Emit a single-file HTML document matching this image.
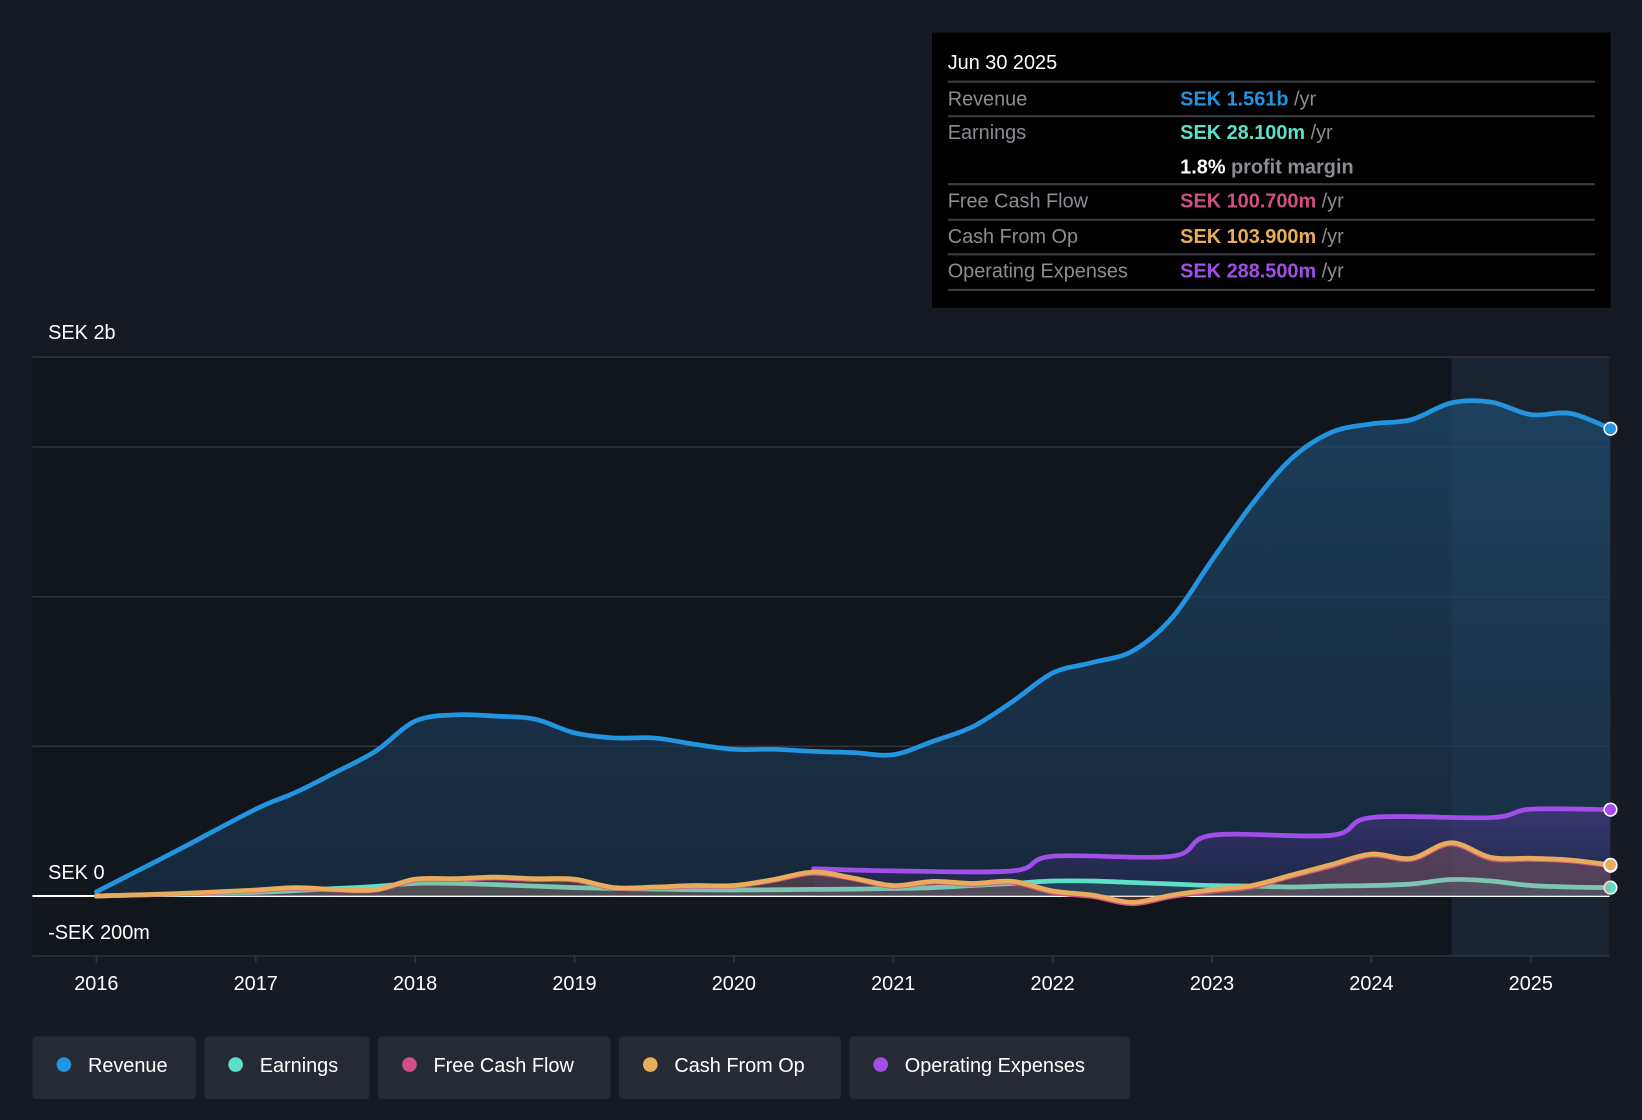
<!DOCTYPE html>
<html><head><meta charset="utf-8"><style>
html,body{margin:0;padding:0;background:#151a23;overflow:hidden}
svg{display:block}
text{font-family:"Liberation Sans",sans-serif}
</style></head><body>
<svg id="chart" width="1642" height="1120" viewBox="0 0 1568 1070" preserveAspectRatio="none" xmlns="http://www.w3.org/2000/svg">
<defs>
<linearGradient id="revGrad" x1="0" y1="0" x2="0" y2="1"><stop offset="0" stop-color="#1e4a6e" stop-opacity="0.75"/><stop offset="1" stop-color="#1a3550" stop-opacity="0.6"/></linearGradient>
<linearGradient id="opGrad" x1="0" y1="0" x2="0" y2="1"><stop offset="0" stop-color="#5a3aa0" stop-opacity="0.45"/><stop offset="1" stop-color="#3a2a70" stop-opacity="0.2"/></linearGradient>
</defs>
<rect x="0" y="0" width="1568" height="1070" fill="#151a23"/>
<rect x="31" y="341" width="1506" height="572" fill="#11151c"/>
<rect x="1386" y="341" width="151" height="572" fill="#1a2430"/>
<g id="grid"></g>
<g id="series"></g>
<g id="axes"></g>
<g>
<rect x="890" y="31" width="648" height="263" fill="#000"/>
<text x="905" y="66" fill="#fff" font-size="19">Jun 30 2025</text>
<line x1="905" y1="78" x2="1523" y2="78" stroke="#3a3d44" stroke-width="2"/>
<text x="905" y="101" fill="#8a8d93" font-size="19">Revenue</text>
<text x="1127" y="101" font-size="19" font-weight="bold" fill="#2394df">SEK 1.561b <tspan fill="#8a8d93" font-weight="normal">/yr</tspan></text>
<line x1="905" y1="111" x2="1523" y2="111" stroke="#3a3d44" stroke-width="2"/>
<text x="905" y="133" fill="#8a8d93" font-size="19">Earnings</text>
<text x="1127" y="133" font-size="19" font-weight="bold" fill="#5de0c8">SEK 28.100m <tspan fill="#8a8d93" font-weight="normal">/yr</tspan></text>
<text x="1127" y="166" font-size="19" font-weight="bold" fill="#fff">1.8% <tspan fill="#8a8d93">profit margin</tspan></text>
<line x1="905" y1="176" x2="1523" y2="176" stroke="#3a3d44" stroke-width="2"/>
<text x="905" y="198" fill="#8a8d93" font-size="19">Free Cash Flow</text>
<text x="1127" y="198" font-size="19" font-weight="bold" fill="#d04f86">SEK 100.700m <tspan fill="#8a8d93" font-weight="normal">/yr</tspan></text>
<line x1="905" y1="210" x2="1523" y2="210" stroke="#3a3d44" stroke-width="2"/>
<text x="905" y="232" fill="#8a8d93" font-size="19">Cash From Op</text>
<text x="1127" y="232" font-size="19" font-weight="bold" fill="#e8ac5c">SEK 103.900m <tspan fill="#8a8d93" font-weight="normal">/yr</tspan></text>
<line x1="905" y1="243" x2="1523" y2="243" stroke="#3a3d44" stroke-width="2"/>
<text x="905" y="265" fill="#8a8d93" font-size="19">Operating Expenses</text>
<text x="1127" y="265" font-size="19" font-weight="bold" fill="#a24ee8">SEK 288.500m <tspan fill="#8a8d93" font-weight="normal">/yr</tspan></text>
<line x1="905" y1="277" x2="1523" y2="277" stroke="#3a3d44" stroke-width="2"/>
</g>
<g id="legend"></g>
</svg>
<script>
const years=[2016,2016.5,2017,2017.25,2017.5,2017.75,2018,2018.25,2018.5,2018.75,2019,2019.25,2019.5,2019.75,2020,2020.25,2020.5,2020.75,2021,2021.25,2021.5,2021.75,2022,2022.25,2022.5,2022.75,2023,2023.25,2023.5,2023.75,2024,2024.25,2024.5,2024.75,2025,2025.25,2025.5];
const revenue=[14,150,290,346,413,483,584,605,601,591,545,528,528,507,490,490,483,479,472,517,566,650,745,780,818,930,1122,1308,1462,1549,1577,1591,1647,1650,1608,1612,1561];
const earnings=[0,6,12,18,25,32,42,42,38,33,28,25,23,21,20,21,22,23,25,28,35,42,50,50,45,40,35,33,30,33,35,40,55,50,35,30,28];
const cashFromOp=[0,8,20,28,22,21,56,58,63,58,56,28,30,35,35,55,80,60,35,49,42,49,17,3,-21,3,21,35,70,105,140,126,178,129,126,120,104];
const freeCashFlow=[0,7,18,26,20,19,53,55,60,55,53,26,28,33,33,52,76,57,32,46,39,46,12,-2,-26,-2,16,30,66,100,136,122,174,124,122,117,101];
const opexYears=[2020.5,2021,2021.75,2022,2022.75,2023,2023.75,2024,2024.75,2025,2025.5];
const opex=[91,84,84,133,133,203,203,262,262,290,288.5];
const yTicks=[-200,0,500,1000,1500,1800];
const yLabels=[{v:1800,t:"SEK 2b"},{v:0,t:"SEK 0"},{v:-200,t:"-SEK 200m"}];
const xTicks=[2016,2017,2018,2019,2020,2021,2022,2023,2024,2025];
const legendNames=["Revenue","Earnings","Free Cash Flow","Cash From Op","Operating Expenses"];
const legendColors=["#2394df","#5de0c8","#d04f86","#e8ac5c","#a24ee8"];

const NS="http://www.w3.org/2000/svg";
const X=y=>92+(y-2016)*152.2;
const Y=v=>856-v*0.286;
function mk(tag,attrs,parent){const e=document.createElementNS(NS,tag);for(const k in attrs)e.setAttribute(k,attrs[k]);parent.appendChild(e);return e;}
function pathD(xs,vs){const p=xs.map((x,i)=>[X(x),Y(vs[i])]);let d="M"+p[0][0]+","+p[0][1];
for(let i=0;i<p.length-1;i++){const p0=p[i-1]||p[i],p1=p[i],p2=p[i+1],p3=p[i+2]||p2;
const c1=[p1[0]+(p2[0]-p0[0])/6,p1[1]+(p2[1]-p0[1])/6],c2=[p2[0]-(p3[0]-p1[0])/6,p2[1]-(p3[1]-p1[1])/6];
d+=" C"+c1+" "+c2+" "+p2;}return d;}
const grid=document.getElementById('grid');
yTicks.forEach(v=>{const l=mk('line',{x1:31,x2:1537,y1:Y(v),y2:Y(v),stroke:v===0?"#ffffff":"#30353e","stroke-width":v===0?2:1.5},grid);

});
const ser=document.getElementById('series');
function series(xs,vs,color,fill,name){
 const d=pathD(xs,vs);
 const a=mk('path',{d:d+" L"+X(xs[xs.length-1])+","+Y(0)+" L"+X(xs[0])+","+Y(0)+" Z",fill:fill},ser);
 
 
 const l=mk('path',{d:d,fill:"none",stroke:color,"stroke-width":4.5,"stroke-linecap":"round"},ser);
 
 
 const c=mk('circle',{cx:X(xs[xs.length-1]),cy:Y(vs[vs.length-1]),r:6,fill:color,stroke:"#fff","stroke-width":1.5},ser);
 
 
}
series(years,revenue,"#2394df","url(#revGrad)","revenue");
series(opexYears,opex,"#a24ee8","url(#opGrad)","operating-expenses");
series(years,earnings,"#5de0c8","rgba(93,224,200,0.12)","earnings");
series(years,freeCashFlow,"#d04f86","rgba(208,79,134,0.15)","free-cash-flow");
series(years,cashFromOp,"#e8ac5c","rgba(232,172,92,0.12)","cash-from-op");
const ax=document.getElementById('axes');
yLabels.forEach(o=>{const t=mk('text',{x:46,y:o.v===1800?324:(o.v===0?840:897),fill:"#fff","font-size":19},ax);t.textContent=o.t;

});
xTicks.forEach(y=>{mk('line',{x1:X(y),x2:X(y),y1:913,y2:920,stroke:"#30353e","stroke-width":1.5},ax);
const t=mk('text',{x:X(y),y:946,fill:"#fff","font-size":19,"text-anchor":"middle"},ax);t.textContent=y;

});
const lg=document.getElementById('legend');
const widths=[156,158,222,212,268];let lx=31;
legendNames.forEach((n,i)=>{const g=mk('g',{},lg);


mk('rect',{x:lx,y:990,width:widths[i],height:60,rx:4,fill:"#252a34"},g);
mk('circle',{cx:lx+30,cy:1017,r:7,fill:legendColors[i]},g);
const t=mk('text',{x:lx+53,y:1024,fill:"#fff","font-size":19},g);t.textContent=n;
lx+=widths[i]+8;});
</script>
</body></html>
